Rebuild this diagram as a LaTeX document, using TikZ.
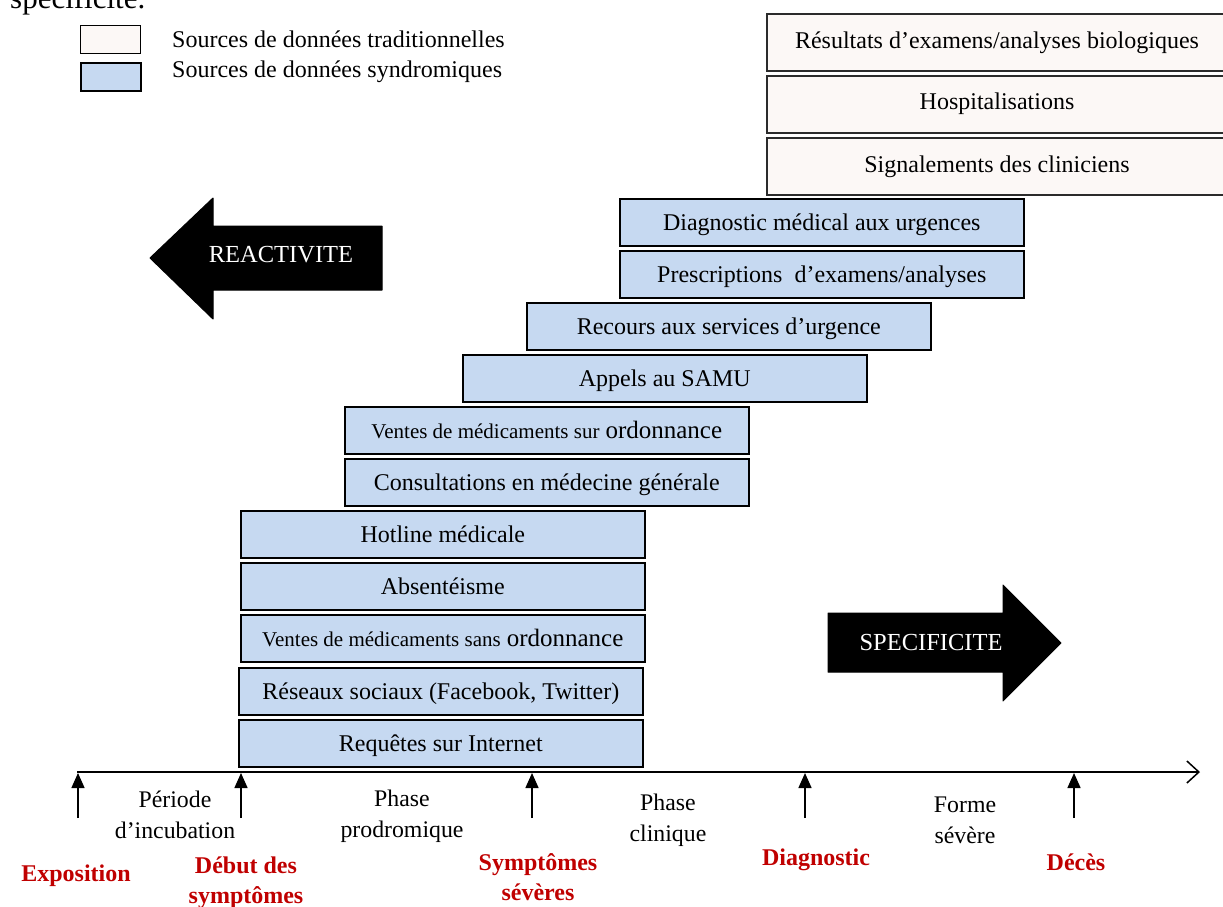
\documentclass[tikz,border=0pt]{standalone}
\usepackage{fontspec}
\setmainfont{Liberation Serif}
\usetikzlibrary{arrows.meta}
\definecolor{synblue}{HTML}{C6D9F1}
\definecolor{tradfill}{HTML}{FCF8F6}
\definecolor{darkred}{HTML}{C00000}
\definecolor{tradline}{HTML}{2B2B2B}
\begin{document}
\begin{tikzpicture}[x=1pt,y=-1pt,
  synbox/.style={draw=black, line width=1.6pt, fill=synblue, inner sep=0pt, anchor=north west,
    minimum width=404pt, minimum height=47pt, text height=19pt, text depth=2pt,
    font=\fontsize{24}{28}\selectfont},
  tradbox/.style={draw=tradline, line width=2pt, fill=tradfill, inner sep=0pt, anchor=north west,
    minimum width=460pt, minimum height=57pt, font=\fontsize{24}{28}\selectfont},
  legbox/.style={draw=black, inner sep=0pt, anchor=north west, minimum width=60pt, minimum height=28pt},
  legtext/.style={anchor=west, inner sep=0pt, font=\fontsize{24}{28}\selectfont},
  phase/.style={align=center, inner sep=0pt, font=\fontsize{23.8}{31}\selectfont},
  event/.style={align=center, inner sep=0pt, text=darkred, font=\bfseries\fontsize{24}{30}\selectfont},
  tick/.style={line width=1.5pt, -{Triangle[length=15pt,width=13pt]}},
  bigarrow/.style={fill=black, draw=black, line width=1pt, line join=round},
  arrtext/.style={text=white, inner sep=0pt, font=\fontsize{24.5}{28}\selectfont}]
\useasboundingbox (0,0) rectangle (1223,906);
% cut caption text at the top
\node[anchor=base west, inner sep=0pt, font=\fontsize{31}{34}\selectfont] (cap) at (10,8) {spécificité.};
% legend
\node[legbox, fill=tradfill, line width=1pt] (legT) at (80,25) {};
\node[legbox, fill=synblue, line width=1.8pt] (legS) at (80,62) {};
\node[legtext] (legTt) at (172,39) {Sources de données traditionnelles};
\node[legtext] (legSt) at (172,72) {Sources de données syndromiques};
% traditional boxes
\node[tradbox] (res) at (766,13) {\raisebox{3pt}{Résultats d’examens/analyses biologiques}};
\node[tradbox] (hos) at (766,75) {\raisebox{6pt}{Hospitalisations}};
\node[tradbox] (sig) at (766,137) {\raisebox{5pt}{Signalements des cliniciens}};
% syndromic boxes
\node[synbox] (diag) at (619,198) {Diagnostic médical aux urgences};
\node[synbox] (presc) at (619,250) {Prescriptions\ \ d’examens/analyses};
\node[synbox] (recours) at (526,302) {Recours aux services d’urgence};
\node[synbox] (samu) at (462,354) {Appels au SAMU};
\node[synbox] (vsur) at (344,406) {{\fontsize{21}{24}\selectfont Ventes de médicaments sur} {\fontsize{25}{28}\selectfont ordonnance}};
\node[synbox] (consult) at (344,458) {Consultations en médecine générale};
\node[synbox] (hotline) at (240,510) {Hotline médicale};
\node[synbox] (absent) at (240,562) {Absentéisme};
\node[synbox] (vsans) at (240,614) {{\fontsize{21}{24}\selectfont Ventes de médicaments sans} {\fontsize{25}{28}\selectfont ordonnance}};
\node[synbox] (reseaux) at (238,667) {Réseaux sociaux (Facebook, Twitter)};
\node[synbox] (requetes) at (238,719) {Requêtes sur Internet};
% big arrows
\draw[bigarrow] (150,258) -- (213,198) -- (213,226) -- (382,226) -- (382,290) -- (213,290) -- (213,319) -- cycle;
\node[arrtext] (reac) at (281,255) {REACTIVITE};
\draw[bigarrow] (828,613) -- (1003,613) -- (1003,585) -- (1061,643) -- (1003,701) -- (1003,672) -- (828,672) -- cycle;
\node[arrtext] (spec) at (931,642) {SPECIFICITE};
% timeline
\coordinate (tl0) at (77,772);
\coordinate (tl1) at (1200,772);
\draw[line width=1.5pt, -{Straight Barb[length=12pt,width=22pt,line width=1.5pt]}] (tl0) -- (tl1);
\foreach \n/\x in {a/78,b/241,c/532,d/805,e/1074}{
  \coordinate (\n0) at (\x,818);
  \coordinate (\n1) at (\x,773);
  \draw[tick] (\n0) -- (\n1);
}
% phases
\node[phase] (p1) at (175,815) {Période\\d’incubation};
\node[phase] (p2) at (402,816) {Phase\\prodromique};
\node[phase] (p3) at (668,820) {Phase\\clinique};
\node[phase] (p4) at (965,820) {Forme\\sévère};
% events
\node[event] (e1) at (76,876) {Exposition};
\node[event] (e2) at (246,883) {Début des\\symptômes};
\node[event] (e3) at (538,877) {Symptômes\\sévères};
\node[event] (e4) at (816,860) {Diagnostic};
\node[event] (e5) at (1076,862) {Décès};
\end{tikzpicture}
\end{document}
